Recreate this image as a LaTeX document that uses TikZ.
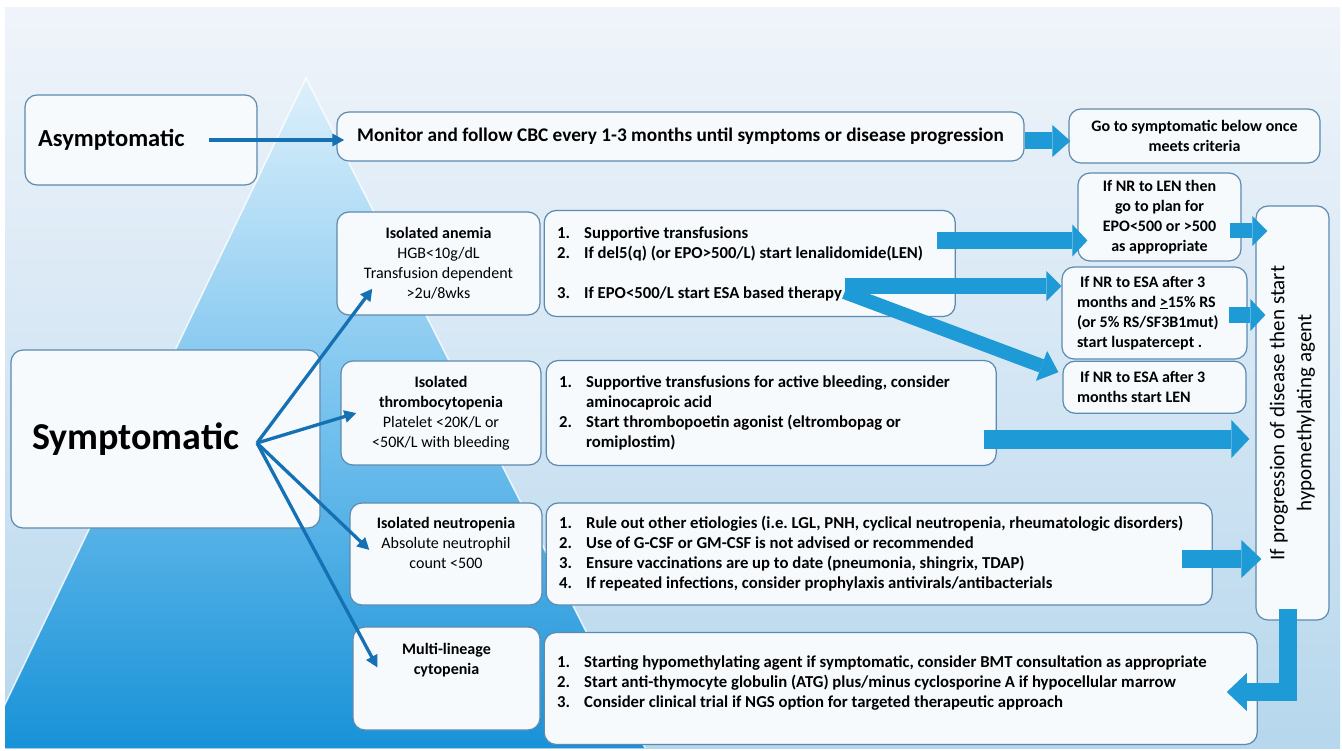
\documentclass[tikz,border=0pt]{standalone}
\usepackage{fontspec}
\setmainfont{Carlito}
\usetikzlibrary{arrows.meta, positioning, calc}

\definecolor{boxline}{RGB}{92,138,176}
\definecolor{boxfill}{RGB}{246,250,253}
\definecolor{thinblue}{RGB}{22,112,180}
\definecolor{blockblue}{RGB}{30,154,214}
\definecolor{bgtop}{RGB}{240,244,250}
\definecolor{bgmid}{RGB}{212,230,244}
\definecolor{bgbot}{RGB}{182,215,236}
\definecolor{pyrtop}{RGB}{222,240,251}
\definecolor{pyrmid}{RGB}{118,194,238}
\definecolor{pyrbot}{RGB}{24,146,216}

% numbered line and continuation line
\newcommand{\li}[2]{\makebox[27pt][l]{#1}#2}
\newcommand{\lc}[1]{\hspace*{27pt}#1}
\frenchspacing

\begin{document}
\begin{tikzpicture}[
            x=1pt, y=-1pt,
            box/.style={draw=boxline, fill=boxfill, rounded corners=12pt, line width=1.2pt, inner sep=0pt, align=center, font=\bfseries\fontsize{16}{20}\selectfont},
            cat/.style={box, font=\fontsize{16}{20}\selectfont},
            listbox/.style={box, align=flush left, inner xsep=13pt},
            txbox/.style={listbox, font=\bfseries\fontsize{16.7}{20}\selectfont},
            thinarrow/.style={draw=thinblue, line width=3.3pt, -{Triangle[width=12pt, length=12pt]}},
            blockarrow/.style n args={3}{draw=blockblue, line width=#1, -{Triangle[width=#2, length=#3, line width=0pt]}}
        ]
        \useasboundingbox (0,0) rectangle (1342,751);

        % Background and pyramid
        \shade[top color=bgtop, bottom color=bgbot, middle color=bgmid] (5,8) rectangle (1340,748);
        \begin{scope}
            \clip (5,8) rectangle (1340,748);
            \shade[top color=pyrtop, bottom color=pyrbot, middle color=pyrmid] (306,78) -- (645,748) -- (-16,748) -- cycle;
            \draw[white, opacity=0.8, line width=1.5pt] (-16,748) -- (306,78) -- (645,748);
        \end{scope}

        % Nodes
        \node[box, text width=206pt, align=flush left, inner xsep=13pt, minimum height=90pt, font=\bfseries\fontsize{24.5}{29}\selectfont] (asym) at (141,140) {Asymptomatic};
        \node[box, minimum width=687pt, minimum height=49pt, font=\bfseries\fontsize{19.3}{23}\selectfont] (monitor) at (680.5,136.5) {Monitor and follow CBC every 1-3 months until symptoms or disease progression};
        \node[box, minimum width=251pt, minimum height=54pt] (goto) at (1194.5,136) {Go to symptomatic below once\\meets criteria};

        \node[box, text width=267pt, align=flush left, inner xsep=21pt, minimum height=178pt, font=\bfseries\fontsize{38}{44}\selectfont] (symp) at (165.5,439) {Symptomatic};

        \node[cat, minimum width=203pt, minimum height=103pt] (anemia) at (438.5,263.5) {\textbf{Isolated anemia}\\HGB<10g/dL\\Transfusion dependent\\>2u/8wks};
        \node[txbox, text width=385pt, minimum height=106pt, right=3pt of anemia] (anemiatx) {\li{1.}{Supportive transfusions}\\\li{2.}{If del5(q) (or EPO>500/L) start lenalidomide(LEN)}\\[20pt]\li{3.}{If EPO<500/L start ESA based therapy}};

        \node[cat, minimum width=200pt, minimum height=104pt] (thrombo) at (441,413) {\textbf{Isolated}\\\textbf{thrombocytopenia}\\Platelet <20K/L or\\<50K/L with bleeding};
        \node[txbox, text width=424pt, minimum height=105pt, right=4pt of thrombo] (thrombotx) {\li{1.}{Supportive transfusions for active bleeding, consider}\\\lc{aminocaproic acid}\\\li{2.}{Start thrombopoetin agonist (eltrombopag or}\\\lc{romiplostim)}};

        \node[cat, minimum width=192pt, minimum height=102pt] (neutro) at (446,554) {\textbf{Isolated neutropenia}\\Absolute neutrophil\\count <500\\[2pt]\mbox{}};
        \node[txbox, text width=640pt, minimum height=102pt, right=3pt of neutro] (neutrotx) {\li{1.}{Rule out other etiologies (i.e. LGL, PNH, cyclical neutropenia, rheumatologic disorders)}\\\li{2.}{Use of G-CSF or GM-CSF is not advised or recommended}\\\li{3.}{Ensure vaccinations are up to date (pneumonia, shingrix, TDAP)}\\\li{4.}{If repeated infections, consider prophylaxis antivirals/antibacterials}};

        \node[box, minimum width=187pt, minimum height=103pt] (multi) at (446.5,678.5) {Multi-lineage\\cytopenia\\\mbox{}\\\mbox{}};
        \node[txbox, text width=687pt, minimum height=112pt, right=3pt of multi, yshift=-10pt] (multitx) {\li{1.}{Starting hypomethylating agent if symptomatic, consider BMT consultation as appropriate}\\\li{2.}{Start anti-thymocyte globulin (ATG) plus/minus cyclosporine A if hypocellular marrow}\\\li{3.}{Consider clinical trial if NGS option for targeted therapeutic approach}\\[-6pt]\mbox{}};

        \node[box, minimum width=163pt, minimum height=88pt] (nrlen) at (1159.5,217) {If NR to LEN then\\go to plan for\\EPO<500 or >500\\as appropriate};
        \node[listbox, text width=155pt, inner xsep=15pt, minimum height=92pt] (nresa) at (1154.5,313) {\hspace*{3pt}If NR to ESA after 3\\months and \underline{>}15\% RS\\(or 5\% RS/SF3B1mut)\\start luspatercept .};
        \node[listbox, text width=155pt, inner xsep=14pt, minimum height=52pt, below=1pt of nresa] (nresalen) {\hspace*{3pt}If NR to ESA after 3\\months start LEN};

        \node[box, minimum width=73pt, minimum height=414pt, font=\fontsize{21}{27}\selectfont] (vert) at (1292.5,413) {\rotatebox{90}{\begin{tabular}{@{}c@{}}If progression of disease then start\\hypomethylating agent\end{tabular}}};

        % Thin arrows
        \coordinate (fan) at (257,443);
        \draw[thinarrow] ([xshift=-49pt]asym.east) -- ([xshift=8pt]asym.east -| monitor.west);
        \draw[thinarrow] (fan) -- ([shift={(36,-27)}]anemia.south west);
        \draw[thinarrow] (fan) -- ([xshift=16pt]thrombo.west);
        \draw[thinarrow] (fan) -- ([shift={(20,-4)}]neutro.west);
        \draw[thinarrow] (fan) -- ([shift={(25,-11)}]multi.west);

        % Block arrows
        \coordinate (monout) at ([yshift=-4.5pt]monitor.east);
        \coordinate (lenout) at ([shift={(-19,-23)}]anemiatx.east);
        \coordinate (esaout) at ([shift={(301,-31)}]anemiatx.south west);
        \coordinate (lenup) at ([shift={(-12,14)}]nrlen.east);
        \coordinate (esaup) at ([shift={(-19,2)}]nresa.east);
        \coordinate (plateout) at ([shift={(-13,26)}]thrombotx.east);
        \coordinate (neutout) at ([shift={(-31,5)}]neutrotx.east);
        \coordinate (hmaout) at ([shift={(-5,-12)}]vert.south);

        \draw[blockarrow={17pt}{32pt}{18pt}] (monout) -- ($(monout -| goto.west)+(2,0)$);
        \draw[blockarrow={17pt}{32pt}{15pt}] (lenout) -- ($(lenout -| nrlen.west)+(10,0)$);
        \draw[blockarrow={16pt}{30pt}{15pt}] (esaout) -- (esaout -| nresa.west);
        \draw[blockarrow={14pt}{32pt}{18pt}] ([yshift=-6pt]esaout) -- ([shift={(-4,-15)}]nresalen.west);
        \draw[blockarrow={15pt}{30pt}{15pt}] (lenup) -- ($(lenup -| vert.west)+(12,0)$);
        \draw[blockarrow={16pt}{32pt}{15pt}] (esaup) -- ($(esaup -| vert.west)+(10,0)$);
        \draw[blockarrow={19pt}{38pt}{18pt}] (plateout) -- ($(plateout -| vert.west)+(-6,0)$);
        \draw[blockarrow={18pt}{38pt}{20pt}] (neutout) -- ($(neutout -| vert.west)+(6,0)$);
        \draw[blockarrow={18pt}{38pt}{20pt}, line join=miter] (hmaout) |- ([shift={(-31,3.5)}]multitx.east);

    \end{tikzpicture}
\end{document}
